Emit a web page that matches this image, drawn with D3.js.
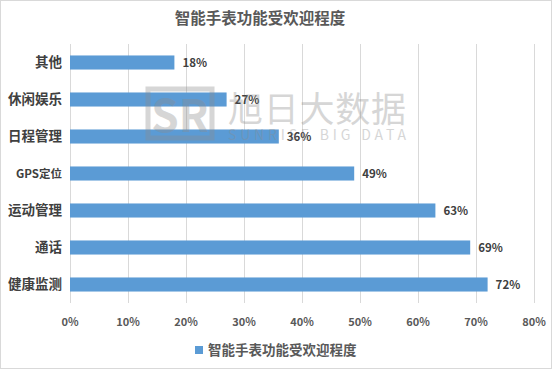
<!DOCTYPE html>
<html>
<head>
<meta charset="utf-8">
<script src="https://cdn.jsdelivr.net/npm/d3@7"></script>
<style>
  body { margin: 0; background: #fff; }
  text { font-family: "Noto Sans CJK SC", "Noto Sans", sans-serif; }
</style>
</head>
<body>
<div id="chart"></div>
<script>
// data
var categories = ["其他", "休闲娱乐", "日程管理", "GPS定位", "运动管理", "通话", "健康监测"];
var values = [18, 27, 36, 49, 63, 69, 72];
var ticks = [0, 10, 20, 30, 40, 50, 60, 70, 80];
var title = "智能手表功能受欢迎程度";

function init() {
    var w = 554, h = 371;
    var margin = { top: 44, right: 20, bottom: 68, left: 70 };
    var width = 534 - margin.left;
    var height = 303 - margin.top;

    var svg = d3.select("#chart").append("svg")
        .attr("width", w)
        .attr("height", h);

    // chart border
    svg.append("rect")
        .attr("x", 0.5).attr("y", 0.5)
        .attr("width", w - 3).attr("height", h - 3)
        .attr("fill", "#fff")
        .attr("stroke", "#d9d9d9");

    // title
    svg.append("text")
        .attr("x", 260).attr("y", 24)
        .attr("text-anchor", "middle")
        .attr("font-size", 15.5)
        .attr("font-weight", "bold")
        .attr("fill", "#595959")
        .text(title);

    var g = svg.append("g")
        .attr("transform", "translate(" + margin.left + "," + margin.top + ")");

    var x = d3.scaleLinear().domain([0, 80]).range([0, width]);
    var y = d3.scaleBand().domain(categories).range([0, height]).paddingInner(0.62).paddingOuter(0.31);

    // gridlines
    g.append("g")
        .selectAll("line")
        .data(ticks)
        .enter().append("line")
        .attr("x1", function (d) { return Math.round(x(d)) + 0.5; })
        .attr("x2", function (d) { return Math.round(x(d)) + 0.5; })
        .attr("y1", 0).attr("y2", height)
        .attr("stroke", "#d9d9d9");

    // x tick labels
    g.append("g")
        .selectAll("text")
        .data(ticks)
        .enter().append("text")
        .attr("x", function (d) { return x(d); })
        .attr("y", height + 23)
        .attr("text-anchor", "middle")
        .attr("font-size", 11)
        .attr("font-weight", "bold")
        .attr("fill", "#595959")
        .text(function (d) { return d + "%"; });

    // category labels
    g.append("g")
        .selectAll("text")
        .data(categories)
        .enter().append("text")
        .attr("x", -8)
        .attr("y", function (d) { return y(d) + y.bandwidth() / 2; })
        .attr("dy", "0.35em")
        .attr("text-anchor", "end")
        .attr("font-size", function (d) { return d === "GPS定位" ? 11.5 : 13.5; })
        .attr("font-weight", "bold")
        .attr("fill", "#404040")
        .text(function (d) { return d; });

    // watermark
    var wm = svg.append("g").attr("opacity", 0.35);
    wm.append("rect")
        .attr("x", 148).attr("y", 89).attr("width", 64).attr("height", 49)
        .attr("fill", "none").attr("stroke", "#8c8c8c").attr("stroke-width", 5);
    wm.append("text")
        .attr("x", 180).attr("y", 132)
        .attr("text-anchor", "middle")
        .attr("font-size", 44)
        .attr("font-family", "Liberation Serif, serif")
        .attr("font-weight", "bold")
        .attr("fill", "#8c8c8c")
        .text("SR");
    wm.append("text")
        .attr("x", 228).attr("y", 122)
        .attr("font-size", 35)
        .attr("fill", "#8c8c8c")
        .attr("textLength", 178)
        .text("旭日大数据");
    wm.append("text")
        .attr("x", 228).attr("y", 140)
        .attr("font-size", 14)
        .attr("font-family", "DejaVu Sans, sans-serif")
        .attr("fill", "#8c8c8c")
        .attr("textLength", 178)
        .text("SUNRISE BIG DATA");

    // bars
    g.append("g")
        .selectAll("rect")
        .data(values)
        .enter().append("rect")
        .attr("x", 0)
        .attr("y", function (d, i) { return y(categories[i]); })
        .attr("width", function (d) { return x(d); })
        .attr("height", y.bandwidth())
        .attr("fill", "#5B9BD5");

    // value labels
    g.append("g")
        .selectAll("text")
        .data(values)
        .enter().append("text")
        .attr("x", function (d) { return x(d) + 8; })
        .attr("y", function (d, i) { return y(categories[i]) + y.bandwidth() / 2; })
        .attr("dy", "0.35em")
        .attr("font-size", 11.5)
        .attr("font-weight", "bold")
        .attr("fill", "#404040")
        .text(function (d) { return d + "%"; });

    // legend
    var lg = svg.append("g").attr("transform", "translate(195,346)");
    lg.append("rect")
        .attr("width", 8).attr("height", 8)
        .attr("fill", "#5B9BD5");
    lg.append("text")
        .attr("x", 13).attr("y", 4)
        .attr("dy", "0.35em")
        .attr("font-size", 13.5)
        .attr("font-weight", "bold")
        .attr("fill", "#595959")
        .text(title);
}
window.onload = init;
</script>
</body>
</html>
